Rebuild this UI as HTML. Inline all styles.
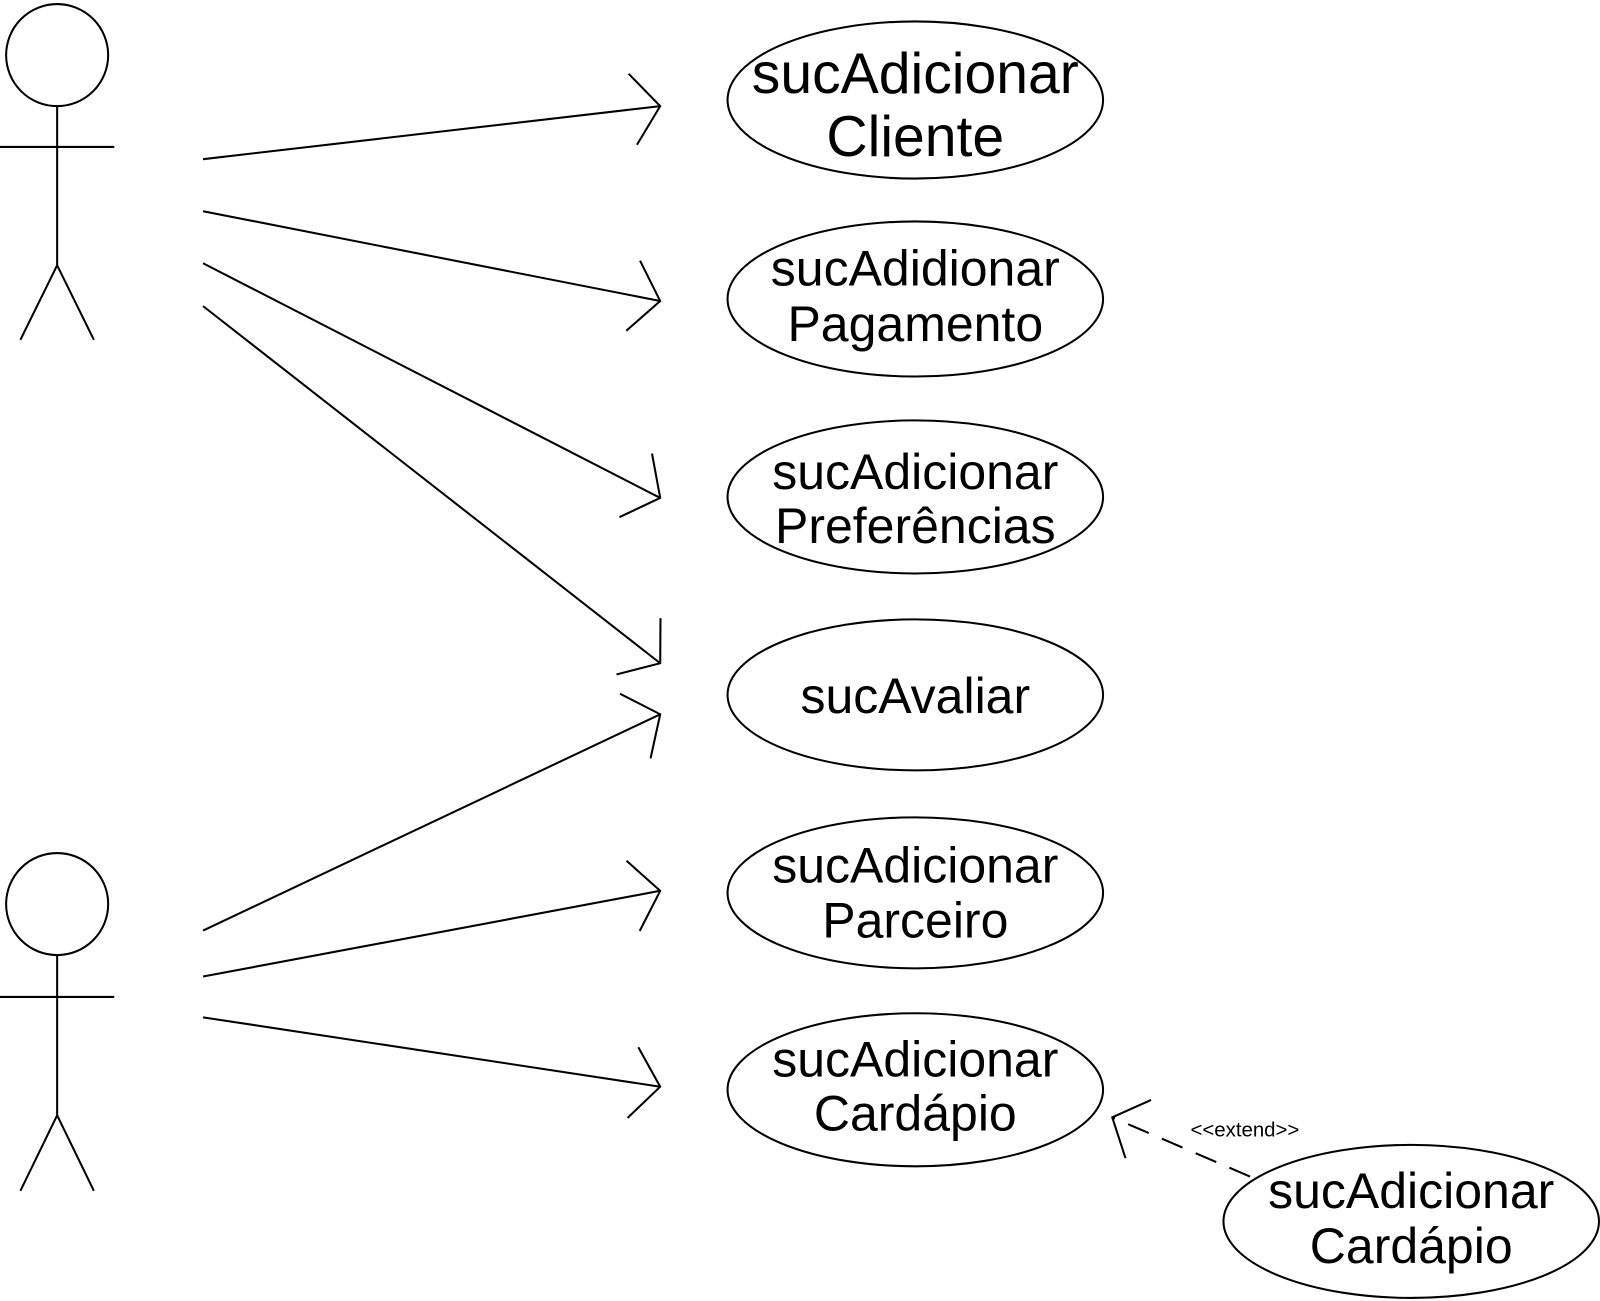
<!DOCTYPE html>
<html><head><meta charset="utf-8"><style>html,body{margin:0;padding:0;background:#fff}svg{display:block}</style></head>
<body>
<svg width="1600" height="1301" viewBox="0 0 1568 1275" preserveAspectRatio="none" xmlns="http://www.w3.org/2000/svg">
<defs>
<marker id="a" markerUnits="userSpaceOnUse" markerWidth="100" markerHeight="100" refX="50" refY="50" orient="auto" overflow="visible">
<path d="M23,15 L50,50 L23,85" fill="none" stroke="#000" stroke-width="2"/>
</marker>
</defs>
<g fill="none" stroke="#000" stroke-width="2">
<circle cx="56" cy="54" r="50"/>
<line x1="56" y1="104" x2="56" y2="260"/><line x1="0" y1="144" x2="112" y2="144"/>
<line x1="56" y1="260" x2="20" y2="333"/><line x1="56" y1="260" x2="92" y2="333"/>
<circle cx="56" cy="886" r="50"/>
<line x1="56" y1="936" x2="56" y2="1093"/><line x1="0" y1="977" x2="112" y2="977"/>
<line x1="56" y1="1093" x2="20" y2="1167"/><line x1="56" y1="1093" x2="92" y2="1167"/>
<ellipse cx="897" cy="98" rx="184" ry="77"/>
<ellipse cx="897" cy="293" rx="184" ry="76"/>
<ellipse cx="897" cy="487" rx="184" ry="75"/>
<ellipse cx="897" cy="681" rx="184" ry="74"/>
<ellipse cx="897" cy="875" rx="184" ry="74"/>
<ellipse cx="897" cy="1068" rx="184" ry="75"/>
<ellipse cx="1383" cy="1197" rx="184" ry="75"/>
<line x1="199" y1="156" x2="647" y2="104" marker-end="url(#a)"/>
<line x1="199" y1="207" x2="647" y2="295" marker-end="url(#a)"/>
<line x1="199" y1="258" x2="647" y2="488" marker-end="url(#a)"/>
<line x1="199" y1="300" x2="647" y2="650" marker-end="url(#a)"/>
<line x1="199" y1="912" x2="647" y2="700" marker-end="url(#a)"/>
<line x1="199" y1="957" x2="647" y2="873" marker-end="url(#a)"/>
<line x1="199" y1="997" x2="647" y2="1065" marker-end="url(#a)"/>
<line x1="1225" y1="1153" x2="1090" y2="1095" stroke-dasharray="22,14"/>
<path d="M1128,1078 L1090,1095 L1103,1135"/>
</g>
<g font-family="Liberation Sans, sans-serif" font-size="49" text-anchor="middle" fill="#000">
<text x="897" y="91" font-size="56">sucAdicionar</text><text x="897" y="153" font-size="56">Cliente</text>
<text x="897" y="280">sucAdidionar</text><text x="897" y="334">Pagamento</text>
<text x="897" y="479">sucAdicionar</text><text x="897" y="532">Preferências</text>
<text x="897" y="699">sucAvaliar</text>
<text x="897" y="865">sucAdicionar</text><text x="897" y="919">Parceiro</text>
<text x="897" y="1055">sucAdicionar</text><text x="897" y="1108">Cardápio</text>
<text x="1383" y="1184">sucAdicionar</text><text x="1383" y="1238">Cardápio</text>
<text x="1220" y="1114" font-size="20">&lt;&lt;extend&gt;&gt;</text>
</g>
</svg>
</body></html>
